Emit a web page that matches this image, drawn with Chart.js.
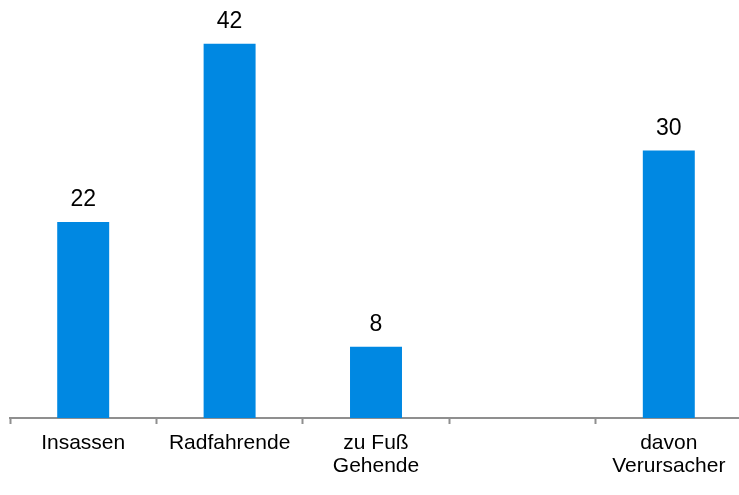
<!DOCTYPE html>
<html>
<head>
<meta charset="utf-8">
<script src="https://cdn.jsdelivr.net/npm/chart.js@4"></script>
<style>
  html, body { margin: 0; padding: 0; background: #fff; overflow: hidden; }
  canvas { display: block; }
</style>
</head>
<body>
<canvas id="chart" width="742" height="495"></canvas>
<script>
const categories = [["Insassen"], ["Radfahrende"], ["zu Fuß", "Gehende"], [""], ["davon", "Verursacher"]];
const values = [22, 42, 8, null, 30];

const barColor = "#0088e2";
const axisColor = "#8f8f8f";

// draw value labels above bars
const valueLabels = {
    id: "valueLabels",
    afterDatasetsDraw(chart) {
        const ctx = chart.ctx;
        const meta = chart.getDatasetMeta(0);
        ctx.save();
        ctx.font = "23px 'Liberation Sans', Arial, sans-serif";
        ctx.fillStyle = "#000";
        ctx.textAlign = "center";
        ctx.textBaseline = "alphabetic";
        meta.data.forEach((bar, i) => {
            if (values[i] == null) return;
            ctx.fillText(String(values[i]), bar.x, bar.y - 16);
        });
        ctx.restore();
    }
};

const ctx = document.getElementById("chart").getContext("2d");
new Chart(ctx, {
    type: "bar",
    data: {
        labels: categories,
        datasets: [{
            data: values,
            backgroundColor: barColor,
            barPercentage: 0.71,
            categoryPercentage: 0.5
        }]
    },
    options: {
        responsive: false,
        animation: false,
        layout: { padding: { left: 10, right: 0, top: 0, bottom: 0 } },
        plugins: {
            legend: { display: false },
            tooltip: { enabled: false }
        },
        scales: {
            x: {
                afterFit(scale) { scale.height = 77; },
                grid: {
                    drawOnChartArea: false,
                    drawTicks: true,
                    tickLength: 6,
                    tickWidth: 2,
                    color: axisColor
                },
                border: { display: true, color: axisColor, width: 2 },
                ticks: {
                    color: "#000",
                    padding: 8,
                    maxRotation: 0,
                    autoSkip: false,
                    font: { family: "'Liberation Sans', Arial, sans-serif", size: 21, lineHeight: 1.1 }
                }
            },
            y: {
                display: false,
                min: 0,
                max: 46.9
            }
        }
    },
    plugins: [valueLabels]
});
</script>
</body>
</html>
